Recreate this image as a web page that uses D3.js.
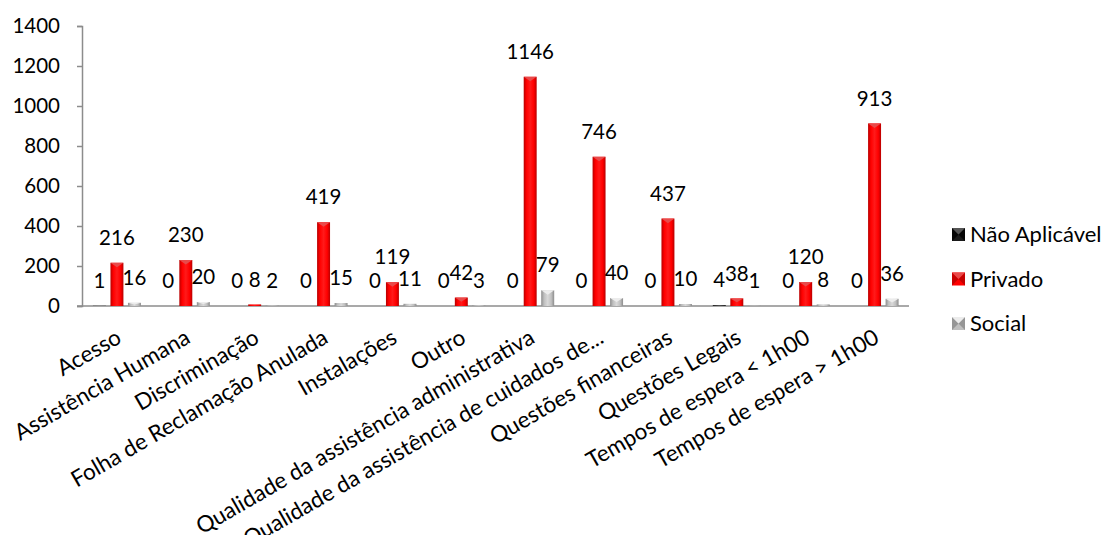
<!DOCTYPE html>
<html>
<head>
<meta charset="utf-8">
<script src="https://cdn.jsdelivr.net/npm/d3@7"></script>
<style>
  html, body { margin: 0; padding: 0; background: #ffffff; }
  svg { display: block; }
  text { font-family: Lato, "Open Sans", sans-serif; fill: #000; }
</style>
</head>
<body>
<svg id="chart" width="1104" height="535"></svg>
<script>
// Reclamações por categoria e tipo de entidade
const categories = [
  "Acesso",
  "Assistência Humana",
  "Discriminação",
  "Folha de Reclamação Anulada",
  "Instalações",
  "Outro",
  "Qualidade da assistência administrativa",
  "Qualidade da assistência de cuidados de...",
  "Questões financeiras",
  "Questões Legais",
  "Tempos de espera < 1h00",
  "Tempos de espera > 1h00"
];
const seriesNames = ["Não Aplicável", "Privado", "Social"];
const naoAplicavel = [1, 0, 0, 0, 0, 0, 0, 0, 0, 4, 0, 0];
const privado = [216, 230, 8, 419, 119, 42, 1146, 746, 437, 38, 120, 913];
const social = [16, 20, 2, 15, 11, 3, 79, 40, 10, 1, 8, 36];
const yTicks = [0, 200, 400, 600, 800, 1000, 1200, 1400];

const seriesValues = [naoAplicavel, privado, social];
const seriesStyle = [
  { base: "#1a1a1a", edge: "#000000", mid: "#3a3a3a", cap: "#555555" },
  { base: "#ff0000", edge: "#b80000", mid: "#ff1a1a", cap: "#e84a4a" },
  { base: "#bfbfbf", edge: "#8c8c8c", mid: "#d9d9d9", cap: "#ececec" }
];

const svg = d3.select("#chart");
const defs = svg.append("defs");

seriesStyle.forEach((s, i) => {
  const g = defs.append("linearGradient")
    .attr("id", "bar-grad-" + i)
    .attr("x1", "0%").attr("x2", "100%").attr("y1", "0%").attr("y2", "0%");
  g.append("stop").attr("offset", "0%").attr("stop-color", s.edge);
  g.append("stop").attr("offset", "22%").attr("stop-color", s.base);
  g.append("stop").attr("offset", "50%").attr("stop-color", s.mid);
  g.append("stop").attr("offset", "78%").attr("stop-color", s.base);
  g.append("stop").attr("offset", "100%").attr("stop-color", s.edge);
});

const x0 = d3.scaleBand().domain(categories).range([82.5, 909]);
const x1 = d3.scaleBand().domain(seriesNames).range([-24, 24]).paddingInner(0.26);
const y = d3.scaleLinear().domain([0, 1400]).range([306, 26]);

// Eixo vertical
const yAxis = svg.append("g")
  .attr("transform", "translate(82,0)")
  .call(d3.axisLeft(y).tickValues(yTicks).tickSize(5).tickPadding(17).tickFormat(d3.format("d")));
yAxis.select(".domain").attr("stroke", "#8c8c8c").attr("stroke-width", 1.5);
yAxis.selectAll(".tick line").attr("stroke", "#8c8c8c").attr("stroke-width", 1.5);
yAxis.selectAll(".tick text")
  .style("font-family", "Lato, 'Open Sans', sans-serif")
  .style("font-size", "20.5px")
  .attr("fill", "#000");

// Linha de base
svg.append("line")
  .attr("x1", 77).attr("x2", 909)
  .attr("y1", y(0)).attr("y2", y(0))
  .attr("stroke", "#8c8c8c").attr("stroke-width", 1.5);

// Barras
const rows = categories.map((c, i) => ({
  category: c,
  values: seriesNames.map((s, k) => ({ series: s, k: k, value: seriesValues[k][i] }))
}));

const groups = svg.append("g").selectAll("g")
  .data(rows)
  .join("g")
  .attr("transform", d => `translate(${x0(d.category) + x0.bandwidth() / 2},0)`);

const bw = x1.bandwidth();

groups.selectAll("rect.bar")
  .data(d => d.values)
  .join("rect")
  .attr("class", "bar")
  .attr("x", d => x1(d.series))
  .attr("y", d => y(d.value))
  .attr("width", bw)
  .attr("height", d => y(0) - y(d.value))
  .attr("fill", d => `url(#bar-grad-${d.k})`);

// Chanfro no topo de cada barra
groups.selectAll("path.cap")
  .data(d => d.values.filter(v => y(0) - y(v.value) > 3))
  .join("path")
  .attr("class", "cap")
  .attr("d", d => {
    const xl = x1(d.series), xr = xl + bw, top = y(d.value);
    const h = Math.min(bw * 0.35, (y(0) - top) / 2);
    return `M${xl},${top}L${xr},${top}L${xl + bw / 2},${top + h}Z`;
  })
  .attr("fill", d => seriesStyle[d.k].cap);

// Rótulos de valor
groups.selectAll("text.val")
  .data(d => d.values)
  .join("text")
  .attr("class", "val")
  .attr("x", d => x1(d.series) + bw / 2)
  .attr("y", d => y(d.value) - 25)
  .attr("dy", "0.35em")
  .attr("text-anchor", "middle")
  .style("font-size", "20.5px")
  .text(d => d.value);

// Rótulos das categorias (rodados)
svg.append("g").selectAll("text")
  .data(categories)
  .join("text")
  .attr("transform", c => `translate(${x0(c) + x0.bandwidth() / 2 + 2},${y(0) + 29}) rotate(-30)`)
  .attr("text-anchor", "end")
  .attr("dy", "0.35em")
  .style("font-size", "22.5px")
  .text(c => c);

// Legenda
const legend = svg.append("g").selectAll("g")
  .data(seriesNames)
  .join("g")
  .attr("transform", (s, i) => `translate(952,${228 + i * 44.5})`);

legend.append("rect")
  .attr("width", 13).attr("height", 13)
  .attr("fill", (s, i) => seriesStyle[i].base);
legend.append("path")
  .attr("d", "M0,0L6.5,6.5L0,13Z M13,0L6.5,6.5L13,13Z")
  .attr("fill", (s, i) => seriesStyle[i].edge)
  .attr("opacity", 0.8);
legend.append("path")
  .attr("d", "M0,0L13,0L6.5,6.5Z")
  .attr("fill", (s, i) => seriesStyle[i].cap);

legend.append("text")
  .attr("x", 18)
  .attr("y", 6.5)
  .attr("dy", "0.35em")
  .style("font-size", "22px")
  .text(s => s);
</script>
</body>
</html>
